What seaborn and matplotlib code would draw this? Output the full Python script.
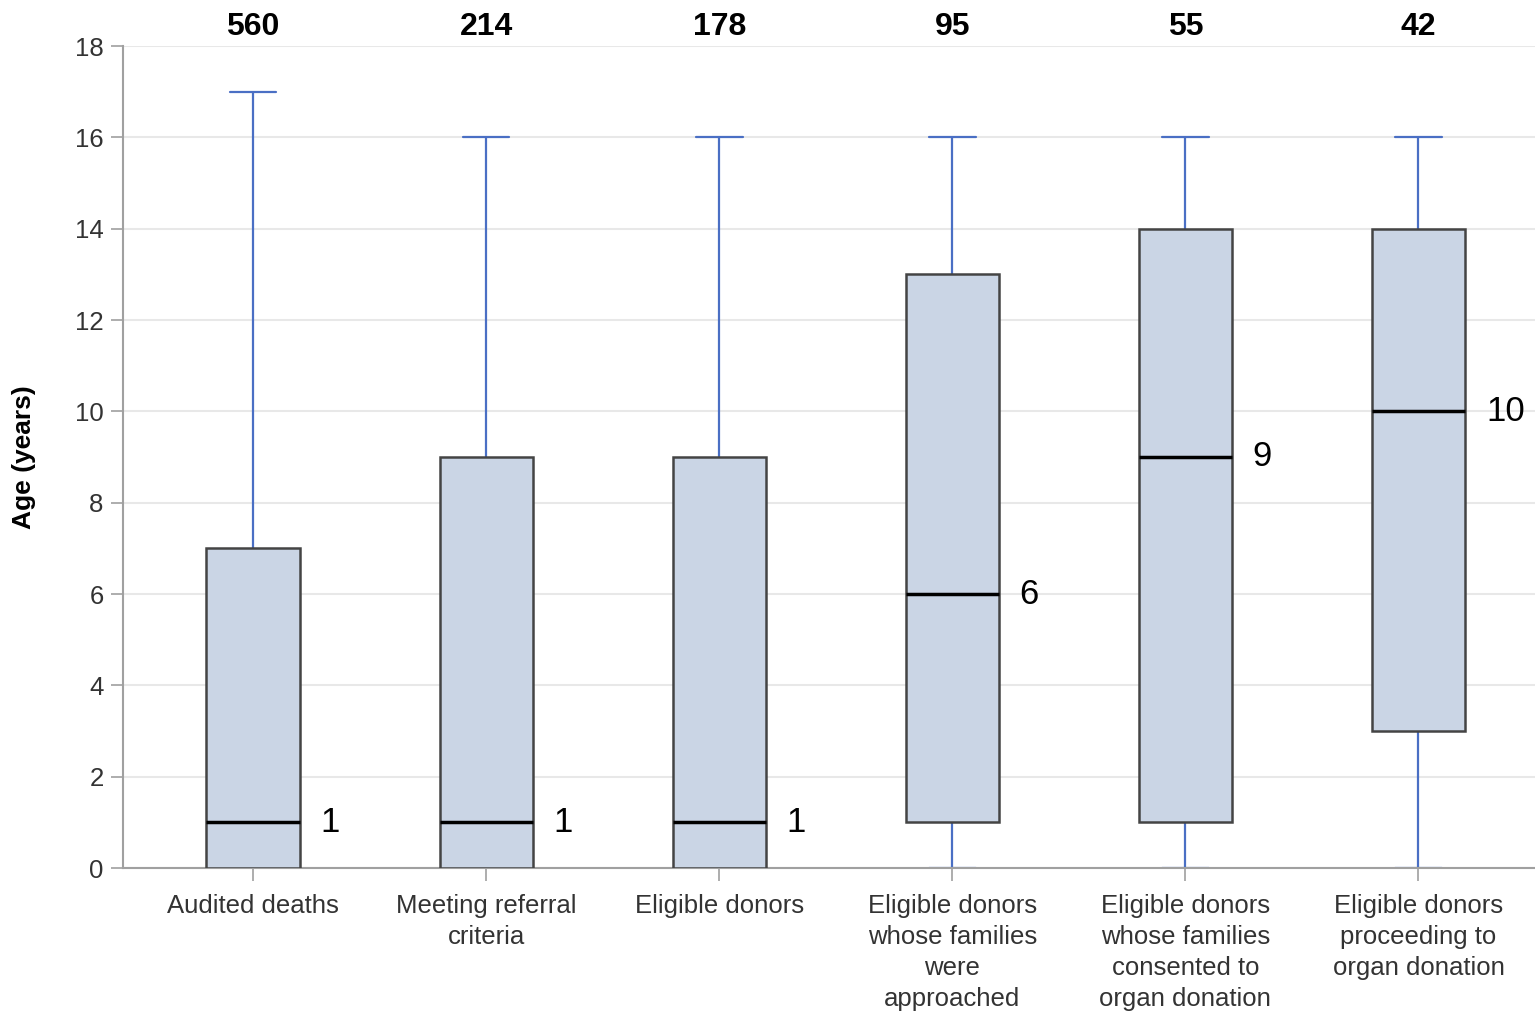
import matplotlib
matplotlib.use("Agg")
import matplotlib.pyplot as plt
import seaborn as sns
import pandas as pd

# ---- data ----
categories = [
    "Audited deaths",
    "Meeting referral\ncriteria",
    "Eligible donors",
    "Eligible donors\nwhose families\nwere\napproached",
    "Eligible donors\nwhose families\nconsented to\norgan donation",
    "Eligible donors\nproceeding to\norgan donation",
]
counts = [560, 214, 178, 95, 55, 42]
age_min = [0, 0, 0, 0, 0, 0]
age_q1 = [0, 0, 0, 1, 1, 3]
age_median = [1, 1, 1, 6, 9, 10]
age_q3 = [7, 9, 9, 13, 14, 14]
age_max = [17, 16, 16, 16, 16, 16]
y_ticks = [0, 2, 4, 6, 8, 10, 12, 14, 16, 18]

# five-number summaries as a long table (quartiles reproduce exactly)
rows = []
for i, cat in enumerate(categories):
    for v in (age_min[i], age_q1[i], age_median[i], age_q3[i], age_max[i]):
        rows.append({"group": cat, "age": v})
df = pd.DataFrame(rows)

sns.set_theme(style="white")
plt.rcParams["font.family"] = ["Liberation Sans", "DejaVu Sans"]

fig = plt.figure(figsize=(15.35, 10.18), dpi=100)
ax = fig.add_axes([123 / 1535, 1 - 868 / 1018, 1 - 123 / 1535, (868 - 46) / 1018])

ax.yaxis.grid(True, color="#e8e8e8", linewidth=1.5, zorder=0)
ax.set_axisbelow(True)

sns.boxplot(
    data=df, x="group", y="age", order=categories, ax=ax,
    whis=(0, 100), width=0.4, showfliers=False,
    boxprops=dict(facecolor="#cad5e5", edgecolor="#444444", linewidth=1.8, zorder=3),
    whiskerprops=dict(color="#4a6fc4", linewidth=1.6),
    capprops=dict(color="#4a6fc4", linewidth=1.6),
    medianprops=dict(color="#000000", linewidth=2.5, zorder=4),
)

ax.set_xlim(-0.558, 5.50)
ax.set_ylim(0, 18)
ax.set_yticks(y_ticks)
ax.set_yticklabels([str(t) for t in y_ticks], fontsize=18.5, color="#333333")
ax.set_xticks(range(len(categories)))
ax.set_xticklabels(categories, fontsize=18.5, color="#333333", linespacing=1.37)
ax.tick_params(axis="both", which="both", direction="out", length=9,
               width=1.2, color="#a0a0a0", bottom=True, left=True)
ax.tick_params(axis="x", pad=10)
ax.tick_params(axis="y", pad=5)

ax.set_xlabel("")
ax.set_ylabel("Age (years)", fontsize=19, fontweight="bold", color="#000000", labelpad=28)

for side in ("top", "right"):
    ax.spines[side].set_visible(False)
for side in ("left", "bottom"):
    ax.spines[side].set_color("#a0a0a0")
    ax.spines[side].set_linewidth(1.5)

# counts above each box
for i, n in enumerate(counts):
    ax.annotate(str(n), xy=(i, 18), xytext=(0, 14), textcoords="offset points",
                ha="center", va="center", fontsize=23, fontweight="bold",
                color="#000000", annotation_clip=False)

# median labels
for i, m in enumerate(age_median):
    ax.annotate(str(m), xy=(i + 0.2, m), xytext=(15, 0), textcoords="offset points",
                ha="left", va="center", fontsize=25, color="#000000",
                annotation_clip=False)

fig.savefig("out.png", dpi=100)
